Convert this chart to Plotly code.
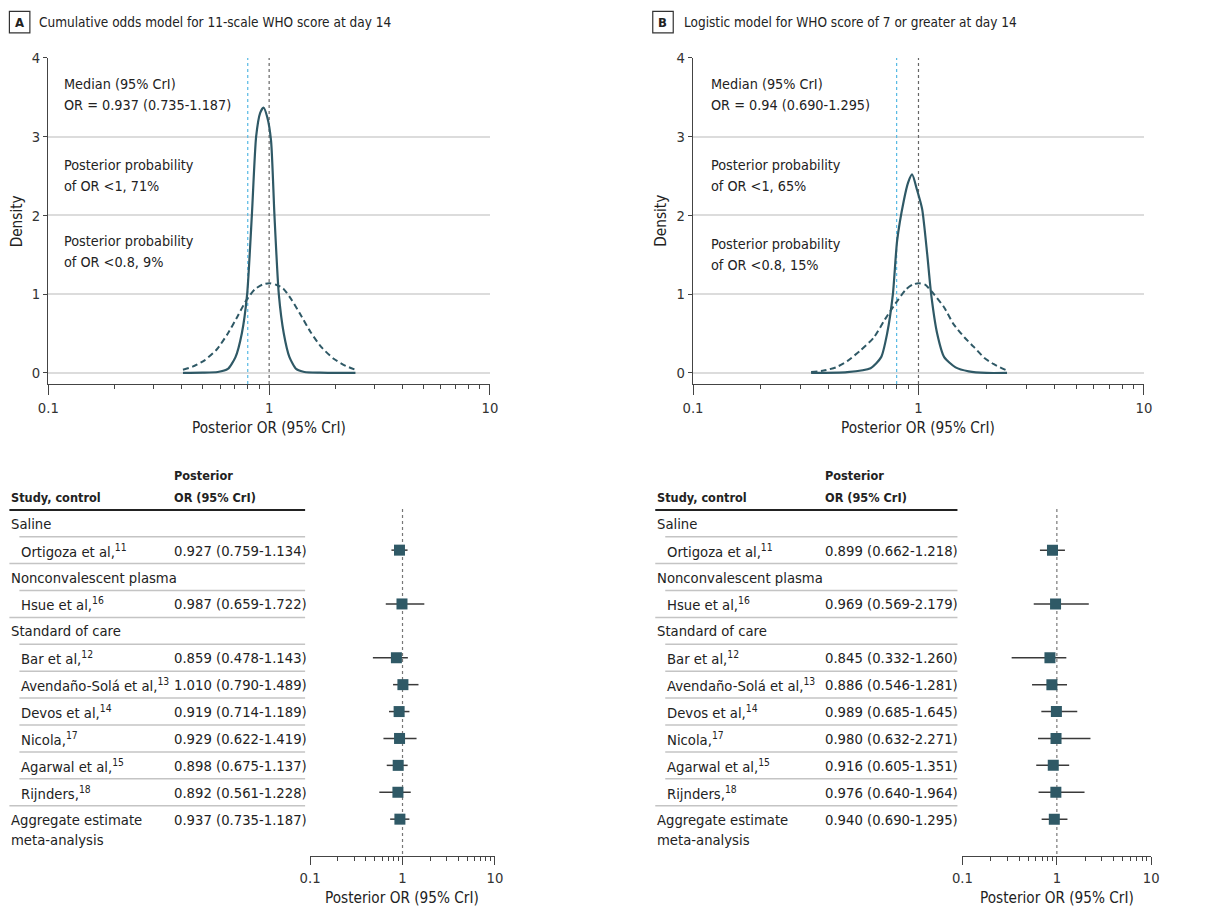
import plotly.graph_objects as go

W, H = 1227, 907
FONT = "DejaVu Sans Condensed, DejaVu Sans, sans-serif"
TEAL = "#2f5966"
AX = "#444444"
TXT = "#222222"

# ---------------- data ----------------
a_post_or = [0.407, 0.5, 0.585, 0.65, 0.704, 0.752, 0.795, 0.835, 0.873, 0.91, 0.943, 0.98,
             1.02, 1.057, 1.106, 1.165, 1.236, 1.325, 1.445, 1.7, 2.0, 2.46]
a_post_d = [0.0, 0.003, 0.012, 0.05, 0.2, 0.5, 1.0, 2.0, 3.0, 3.3, 3.37, 3.25,
            2.95, 2.0, 1.0, 0.5, 0.2, 0.05, 0.012, 0.003, 0.0, 0.0]
a_prior_or = [0.407, 0.45, 0.51, 0.58, 0.65, 0.72, 0.787, 0.86, 0.93, 1.0, 1.075, 1.16,
              1.27, 1.38, 1.54, 1.72, 1.96, 2.22, 2.46]
a_prior_d = [0.04, 0.08, 0.16, 0.3, 0.5, 0.72, 0.92, 1.06, 1.12, 1.14, 1.12, 1.07,
             0.92, 0.75, 0.52, 0.33, 0.18, 0.09, 0.04]

b_post_or = [0.334, 0.483, 0.613, 0.683, 0.726, 0.77, 0.804, 0.861, 0.90, 0.937, 0.986,
             1.038, 1.093, 1.138, 1.21, 1.30, 1.46, 1.67, 2.0, 2.47]
b_post_d = [0.0, 0.01, 0.06, 0.2, 0.5, 1.0, 1.68, 2.19, 2.42, 2.52, 2.32,
            2.08, 1.51, 1.0, 0.5, 0.2, 0.07, 0.02, 0.0, 0.0]
b_prior_or = [0.334, 0.38, 0.43, 0.483, 0.55, 0.634, 0.71, 0.79, 0.88, 0.94, 1.0, 1.07,
              1.17, 1.3, 1.43, 1.6, 1.76, 1.96, 2.16, 2.47]
b_prior_d = [0.01, 0.03, 0.07, 0.15, 0.28, 0.45, 0.68, 0.88, 1.06, 1.12, 1.14, 1.12,
             1.0, 0.83, 0.62, 0.45, 0.33, 0.19, 0.11, 0.03]

groups = ["Saline", "Nonconvalescent plasma", "Standard of care"]
studies = ["Ortigoza et al,", "Hsue et al,", "Bar et al,", "Avendaño-Solá et al,",
           "Devos et al,", "Nicola,", "Agarwal et al,", "Rijnders,"]
refs = ["11", "16", "12", "13", "14", "17", "15", "18"]
study_group = [0, 1, 2, 2, 2, 2, 2, 2]

a_med = [0.927, 0.987, 0.859, 1.010, 0.919, 0.929, 0.898, 0.892]
a_lo = [0.759, 0.659, 0.478, 0.790, 0.714, 0.622, 0.675, 0.561]
a_hi = [1.134, 1.722, 1.143, 1.489, 1.189, 1.419, 1.137, 1.228]
a_agg = [0.937, 0.735, 1.187]

b_med = [0.899, 0.969, 0.845, 0.886, 0.989, 0.980, 0.916, 0.976]
b_lo = [0.662, 0.569, 0.332, 0.546, 0.685, 0.632, 0.605, 0.640]
b_hi = [1.218, 2.179, 1.260, 1.281, 1.645, 2.271, 1.351, 1.964]
b_agg = [0.940, 0.690, 1.295]

a_title = "Cumulative odds model for 11-scale WHO score at day 14"
b_title = "Logistic model for WHO score of 7 or greater at day 14"
a_notes = ["Median (95% CrI)", "OR = 0.937 (0.735-1.187)", "Posterior probability",
           "of OR <1, 71%", "Posterior probability", "of OR <0.8, 9%"]
b_notes = ["Median (95% CrI)", "OR = 0.94 (0.690-1.295)", "Posterior probability",
           "of OR <1, 65%", "Posterior probability", "of OR <0.8, 15%"]

major_ticks = [0.1, 1, 10]
major_text = ["0.1", "1", "10"]
minor_ticks = [0.2, 0.3, 0.4, 0.5, 0.6, 0.7, 0.8, 0.9, 2, 3, 4, 5, 6, 7, 8, 9]

# ---------------- geometry helpers ----------------
# target picture pixel -> page pixel (the photographed page is inset and slightly scaled)
SX, OX, SY, OY = 0.9855, 9.6, 0.99, 8.1


def X(p):
    return ((p - OX) / SX) / W


def Y(p):
    return 1 - ((p - OY) / SY) / H


ROW0, ROWH = 522.3, 26.9


def R(p):
    return (p - ROW0) / ROWH


fig = go.Figure()
annotations = []
shapes = []

S_TITLE, S_NOTE, S_TAB, S_TICK, S_AXT, S_HEAD = 13.5, 14.3, 14.7, 14.7, 15.2, 12.6


def txt(x, y, s, size=S_TAB, xanchor="left", yanchor="middle", bold=False,
        color=TXT, angle=0):
    annotations.append(dict(
        x=x, y=y, xref="paper", yref="paper", text=("<b>%s</b>" % s) if bold else s,
        showarrow=False, xanchor=xanchor, yanchor=yanchor, textangle=angle,
        font=dict(family=FONT, size=size, color=color)))


def density_panel(xa, ya, post_or, post_d, prior_or, prior_d):
    kw = dict(xaxis=xa, yaxis=ya, showlegend=False, hoverinfo="skip", mode="lines")
    fig.add_trace(go.Scatter(x=[0.8, 0.8], y=[-0.14, 4], line=dict(color="#55b9e4", width=1.2, dash="dot"), **kw))
    fig.add_trace(go.Scatter(x=[1, 1], y=[-0.14, 4], line=dict(color="#666666", width=1.2, dash="dot"), **kw))
    fig.add_trace(go.Scatter(x=prior_or, y=prior_d, line=dict(color=TEAL, width=2, dash="6px,3.5px", shape="spline", smoothing=0.6), **kw))
    fig.add_trace(go.Scatter(x=post_or, y=post_d, line=dict(color=TEAL, width=2.2, shape="spline", smoothing=0.6), **kw))


def forest_panel(xa, ya, med, lo, hi, agg, left, indent, valx, right):
    row_kind, row_label, row_study = [], [], []
    g_prev = None
    for k, g in enumerate(study_group):
        if g != g_prev:
            row_kind.append("group"); row_label.append(groups[g]); row_study.append(None)
            g_prev = g
        row_kind.append("study"); row_label.append("%s<sup>%s</sup>" % (studies[k], refs[k])); row_study.append(k)
    agg_row = len(row_kind)

    def RY(i):
        return Y(ROW0 + ROWH * i)

    xs, ys, mx, my = [], [], [], []
    for i, k in enumerate(row_study):
        if k is None:
            txt(X(left), RY(i), row_label[i])
        else:
            txt(X(indent), RY(i), row_label[i])
            txt(X(valx), RY(i), "%.3f (%.3f-%.3f)" % (med[k], lo[k], hi[k]))
            xs += [lo[k], hi[k], None]; ys += [i, i, None]
            mx.append(med[k]); my.append(i)
    txt(X(left), RY(agg_row), "Aggregate estimate")
    txt(X(left), Y(838.3), "meta-analysis")
    txt(X(valx), RY(agg_row), "%.3f (%.3f-%.3f)" % (agg[0], agg[1], agg[2]))
    xs += [agg[1], agg[2], None]; ys += [agg_row, agg_row, None]
    mx.append(agg[0]); my.append(agg_row)

    for i in range(agg_row):
        nxt_group = (i + 1 >= agg_row) or row_kind[i + 1] == "group"
        full = row_kind[i] == "study" and nxt_group
        x0 = left if full else indent
        shapes.append(dict(type="line", xref="paper", yref="paper", x0=X(x0), x1=X(right),
                           y0=RY(i + 0.5), y1=RY(i + 0.5), line=dict(color="#c4c4c4", width=1.5)))
    txt(X(left), Y(496.7), "Study, control", size=S_HEAD, bold=True)
    txt(X(valx), Y(475), "Posterior", size=S_HEAD, bold=True)
    txt(X(valx), Y(496.7), "OR (95% CrI)", size=S_HEAD, bold=True)
    shapes.append(dict(type="line", xref="paper", yref="paper", x0=X(left), x1=X(right),
                       y0=Y(509), y1=Y(509), line=dict(color="#222222", width=2)))

    kw = dict(xaxis=xa, yaxis=ya, showlegend=False, hoverinfo="skip")
    fig.add_trace(go.Scatter(x=[1, 1], y=[R(508), R(855)], mode="lines",
                             line=dict(color="#777777", width=1.2, dash="dot"), **kw))
    fig.add_trace(go.Scatter(x=xs, y=ys, mode="lines", line=dict(color="#3a3a3a", width=1.5), **kw))
    fig.add_trace(go.Scatter(x=mx, y=my, mode="markers",
                             marker=dict(symbol="square", size=11, color=TEAL), **kw))


density_panel("x", "y", a_post_or, a_post_d, a_prior_or, a_prior_d)
density_panel("x2", "y2", b_post_or, b_post_d, b_prior_or, b_prior_d)
forest_panel("x3", "y3", a_med, a_lo, a_hi, a_agg, left=8, indent=18, valx=171, right=304)
forest_panel("x4", "y4", b_med, b_lo, b_hi, b_agg, left=654.5, indent=664.5, valx=822, right=957)

for bx, tx, letter, title in [(8, 36, "A", a_title), (652, 681, "B", b_title)]:
    shapes.append(dict(type="rect", xref="paper", yref="paper", x0=X(bx), x1=X(bx + 20.5),
                       y0=Y(32), y1=Y(10.5), line=dict(color="#333333", width=1.2)))
    txt(X(bx + 10.25), Y(21.5), letter, size=13, xanchor="center", bold=True)
    txt(X(tx), Y(21), title, size=S_TITLE)

note_y_a = [83, 104, 164, 185, 240, 261]
note_y_b = [83, 104, 164, 185, 243, 264]
for s, yy in zip(a_notes, note_y_a):
    txt(X(61), Y(yy), s, size=S_NOTE)
for s, yy in zip(b_notes, note_y_b):
    txt(X(708), Y(yy), s, size=S_NOTE)

txt(X(268), Y(427), "Posterior OR (95% CrI)", size=S_AXT, xanchor="center")
txt(X(918), Y(427), "Posterior OR (95% CrI)", size=S_AXT, xanchor="center")
txt(X(401), Y(897), "Posterior OR (95% CrI)", size=S_AXT, xanchor="center")
txt(X(1056.7), Y(897), "Posterior OR (95% CrI)", size=S_AXT, xanchor="center")
txt(X(16), Y(220), "Density", size=S_AXT, xanchor="center", angle=-90)
txt(X(660), Y(220), "Density", size=S_AXT, xanchor="center", angle=-90)

tickfont = dict(family=FONT, size=S_TICK, color="#333333")


def log_axis(domain, anchor, major_len, minor_len):
    return dict(type="log", range=[-1, 1], domain=domain, anchor=anchor,
                showline=True, linecolor=AX, linewidth=1.3,
                ticks="outside", ticklen=major_len, tickwidth=1.3, tickcolor=AX,
                tickmode="array", tickvals=major_ticks, ticktext=major_text,
                minor=dict(tickmode="array", tickvals=minor_ticks, ticks="outside",
                           ticklen=minor_len, tickwidth=1.2, tickcolor=AX, showgrid=False),
                showgrid=False, zeroline=False, tickfont=tickfont, fixedrange=True)


def dens_y(anchor):
    return dict(domain=[Y(383), Y(57)], anchor=anchor, range=[-0.14, 4],
                tickmode="array", tickvals=[0, 1, 2, 3, 4], showgrid=True,
                gridcolor="#dcdcdc", gridwidth=1.5, showline=True, linecolor=AX,
                linewidth=1.3, ticks="outside", ticklen=4, tickwidth=1.3, tickcolor=AX,
                zeroline=False, tickfont=tickfont, fixedrange=True)


def forest_y(anchor):
    return dict(domain=[Y(855), Y(508)], anchor=anchor, range=[R(855), R(508)],
                visible=False, fixedrange=True)


fig.update_layout(
    width=W, height=H, margin=dict(l=0, r=0, t=0, b=0),
    paper_bgcolor="white", plot_bgcolor="white", showlegend=False,
    xaxis=log_axis([X(47), X(489)], "y", 10, 4),
    yaxis=dens_y("x"),
    xaxis2=log_axis([X(692.3), X(1143.7)], "y2", 10, 4),
    yaxis2=dens_y("x2"),
    xaxis3=log_axis([X(309), X(494)], "y3", 8, 4),
    yaxis3=forest_y("x3"),
    xaxis4=log_axis([X(962), X(1151)], "y4", 8, 4),
    yaxis4=forest_y("x4"),
    annotations=annotations, shapes=shapes,
)

fig.write_html("out.html", config={"displayModeBar": False},
               post_script="document.body.style.margin='0';document.body.style.overflow='hidden';")
